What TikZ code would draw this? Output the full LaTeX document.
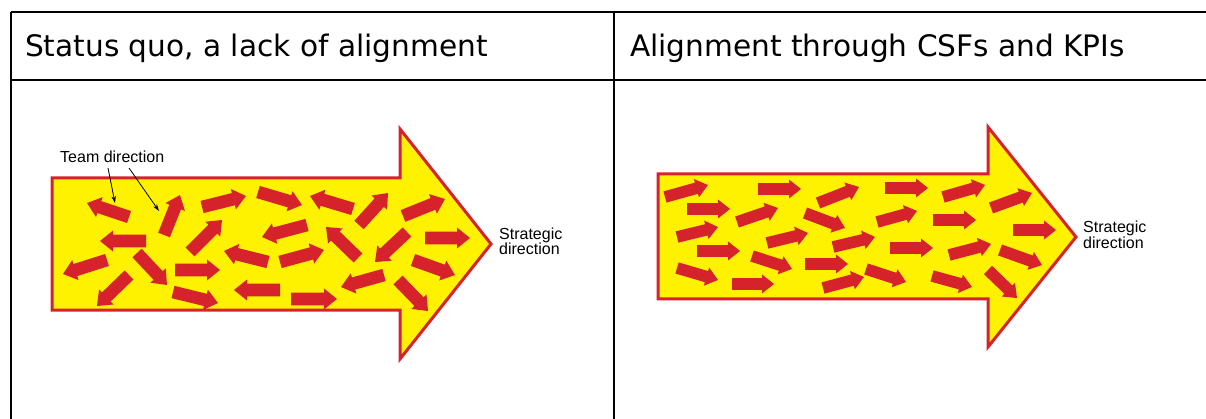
\documentclass[tikz,border=0pt]{standalone}
\usepackage{fontspec}
\setmainfont{Liberation Sans}
\newfontfamily\hdrfont{DejaVu Sans}
\usetikzlibrary{calc,arrows.meta}
\definecolor{myyellow}{RGB}{255,242,0}
\definecolor{myred}{RGB}{214,35,43}
\def\sahl{13pt}\def\sahw{6.3pt}\def\saww{10.5pt}
\newcommand\sarr[2]{%
  \coordinate (sa) at (#1); \coordinate (sb) at (#2);
  \coordinate (sc) at ($(sb)!\sahl!(sa)$);
  \fill[myred] ($(sa)!\sahw!90:(sb)$) -- ($(sc)!\sahw!90:(sb)$) -- ($(sc)!\saww!90:(sb)$) -- (sb)
    -- ($(sc)!\saww!-90:(sb)$) -- ($(sc)!\sahw!-90:(sb)$) -- ($(sa)!\sahw!-90:(sb)$) -- cycle;}
\tikzset{
  grid/.style={line width=1.6pt, black},
  bigarrow/.style={fill=myyellow, draw=myred, line width=3pt, line join=miter},
  hdr/.style={anchor=base west, inner sep=0pt, font=\hdrfont\fontsize{29.6}{34}\selectfont},
  lbl/.style={inner sep=0pt, font=\fontsize{16}{14.5}\selectfont, align=left},
  lead/.style={line width=0.8pt, -{Stealth[length=7pt,width=4.5pt]}}
}
\begin{document}
\begin{tikzpicture}[x=1pt,y=-1pt]
\useasboundingbox (0,0) rectangle (1206,419);
% table
\draw[grid] (11,12) -- (1206,12);
\draw[grid] (11,80) -- (1206,80);
\draw[grid] (11,12) -- (11,419);
\draw[grid] (614,12) -- (614,419);
\node[hdr] (h1) at (25,57) {Status quo, a lack of alignment};
\node[hdr] (h2) at (630,57) {Alignment through CSFs and KPIs};
% left big arrow
\draw[bigarrow] (52,178) -- (400,178) -- (400,129) -- (491,244) -- (400,359) -- (400,310) -- (52,310) -- cycle;
% left small arrows
\sarr{129,217}{87,203}
\sarr{164,235}{180,195}
\sarr{146,241}{100,241}
\sarr{107,260}{63,274}
\sarr{137,253}{167,285}
\sarr{129,275}{97,306}
\sarr{202,207}{246,196}
\sarr{258,192}{302,205}
\sarr{353,209}{310,196}
\sarr{190,252}{222,220}
\sarr{307,225}{262,237}
\sarr{268,262}{224,251}
\sarr{280,262}{324,250}
\sarr{175,270}{220,270}
\sarr{173,292}{218,303}
\sarr{280,290}{234,290}
\sarr{291,299}{337,299}
\sarr{358,258}{326,227}
\sarr{359,225}{388,193}
\sarr{403,216}{445,199}
\sarr{407,232}{375,262}
\sarr{425,238}{470,238}
\sarr{413,260}{455,275}
\sarr{384,275}{341,287}
\sarr{398,280}{428,311}
% right big arrow
\draw[bigarrow] (658,174) -- (988,174) -- (988,127) -- (1076,237) -- (988,347) -- (988,299) -- (658,299) -- cycle;
\def\sahl{12pt}\def\sahw{5.8pt}\def\saww{9.5pt}
\sarr{665,197}{708,185}
\sarr{687,209}{730,209}
\sarr{677,237}{718,227}
\sarr{697,251}{740,251}
\sarr{677,268}{718,280}
\sarr{732,284}{774,284}
\sarr{758,189}{801,189}
\sarr{737,222}{778,208}
\sarr{752,256}{792,269}
\sarr{767,243}{808,233}
\sarr{818,203}{859,187}
\sarr{805,213}{845,228}
\sarr{885,188}{928,188}
\sarr{877,222}{917,211}
\sarr{833,247}{875,237}
\sarr{805,264}{848,264}
\sarr{890,248}{933,248}
\sarr{823,288}{864,277}
\sarr{866,269}{906,282}
\sarr{943,197}{985,185}
\sarr{991,208}{1032,193}
\sarr{933,220}{976,220}
\sarr{1013,230}{1056,230}
\sarr{949,255}{991,244}
\sarr{1000,250}{1042,265}
\sarr{932,276}{972,287}
\sarr{988,270}{1017,298}
% labels
\node[lbl, anchor=base west] (team) at (60,163) {Team direction};
\coordinate (t1s) at (108,168); \coordinate (t1e) at (115,203);
\coordinate (t2s) at (129,168); \coordinate (t2e) at (159,211);
\draw[lead] (t1s) -- (t1e);
\draw[lead] (t2s) -- (t2e);
\node[lbl, anchor=base west] (sd1) at (499,255) {Strategic\\direction};
\node[lbl, anchor=base west] (sd2) at (1083,248.5) {Strategic\\direction};
\end{tikzpicture}
\end{document}
